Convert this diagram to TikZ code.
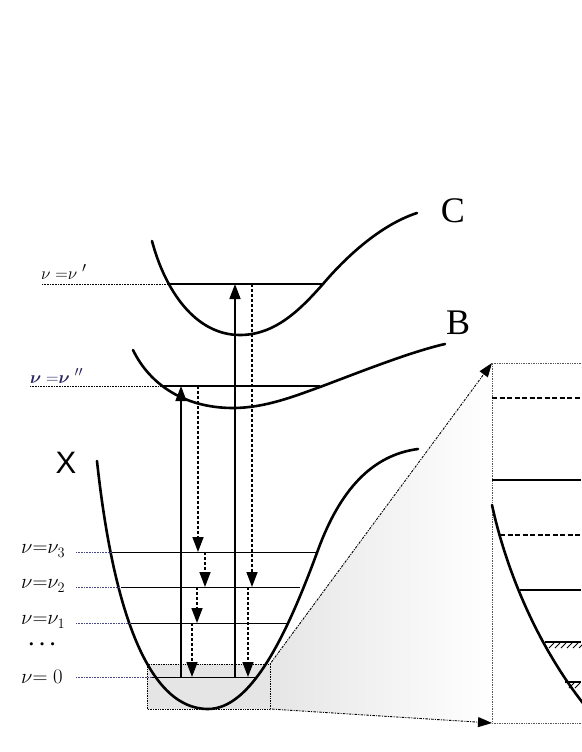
\documentclass[tikz,border=0pt]{standalone}
\usepackage{amsmath}
\usepackage{amssymb}
\usepackage{bm}
\usepackage{fontspec}
\newfontfamily\lsans{Liberation Sans}
\newfontfamily\lserif{Liberation Serif}
\usetikzlibrary{arrows.meta}
\definecolor{navy}{HTML}{2A2560}
\definecolor{guidec}{HTML}{4A4A80}
\begin{document}
\begin{tikzpicture}[x=1pt,y=-1pt,
  pot/.style={line width=2.6pt, line cap=round},
  lvl/.style={line width=1.2pt},
  guide/.style={densely dotted, line width=0.6pt},
  uparr/.style={line width=1.6pt, -{Triangle[length=15pt,width=11pt]}},
  downarr/.style={line width=1.6pt, dash pattern=on 3pt off 2pt, -{Triangle[length=15pt,width=11pt]}},
  zoomarr/.style={line width=0.9pt, dash pattern=on 1pt off 1.2pt on 2.5pt off 1.2pt, -{Triangle[length=14pt,width=10pt]}},
  lab/.style={anchor=west, inner sep=0pt},
  hatch/.style={line width=0.8pt}
]
\useasboundingbox (0,0) rectangle (581,752);

% zoom connection shading
\shade[left color=gray!20, right color=white] (270,664) -- (492,363) -- (492,723) -- (270,709) -- cycle;
% gray zoom box
\fill[gray!20] (147,664) rectangle (270,709);
\draw[densely dotted, line width=0.7pt] (147,664) rectangle (270,709);

% named corners
\coordinate (bxtr) at (270,664);
\coordinate (bxbr) at (270,709);
\coordinate (zmtl) at (492,363);
\coordinate (zmbl) at (492,723);

% zoom frame
\draw[densely dotted, line width=0.7pt, gray!70!black] (581,363) -- (zmtl) -- (zmbl) -- (581,723);
\draw[zoomarr] (bxtr) -- (zmtl);
\draw[zoomarr] (bxbr) -- (zmbl);

% potential curves
\draw[pot] (152,241) .. controls (165,290) and (195,335) .. (240,335)
  .. controls (275,335) and (300,310) .. (323,284)
  .. controls (345,258) and (380,225) .. (417,213);
\draw[pot] (133,350) .. controls (150,385) and (185,408) .. (233,408)
  .. controls (265,408) and (295,396) .. (320,387)
  .. controls (360,372) and (410,352) .. (445,344);
\draw[pot] (97,461) .. controls (112,600) and (145,709) .. (208,709)
  .. controls (250,709) and (285,640) .. (318,550)
  .. controls (340,490) and (372,455) .. (418,449);

% labels of curves
\node[font=\lserif\fontsize{36}{36}\selectfont, inner sep=0pt] (lC) at (453,211) {C};
\node[font=\lserif\fontsize{36}{36}\selectfont, inner sep=0pt] (lB) at (458,323) {B};
\node[font=\lsans\fontsize{31}{31}\selectfont, inner sep=0pt] (lX) at (66,463) {X};

% level lines
\draw[densely dotted, line width=0.6pt] (42,284) -- (168,284);
\draw[lvl] (168,284) -- (323,284);
\draw[densely dotted, line width=0.6pt] (30,386) -- (162,386);
\draw[lvl] (162,386) -- (320,386);
\draw[guide, guidec] (76,552) -- (112,552);
\draw[lvl, line width=1pt] (112,552) -- (318,552);
\draw[guide, guidec] (76,587) -- (121,587);
\draw[lvl, line width=1pt] (121,587) -- (300,587);
\draw[guide, guidec] (76,623) -- (131,623);
\draw[lvl, line width=1pt] (131,623) -- (287,623);
\draw[guide, guidec] (76,677) -- (152,677);
\draw[lvl, line width=1pt] (152,677) -- (258,677);

% level labels
\node[lab, font=\fontsize{19}{19}\selectfont] (l1) at (41,272) {$\nu\;{=}\nu\;'$};
\node[lab, font=\fontsize{19}{19}\selectfont, text=navy] (l2) at (30,376) {$\bm{\nu}\;{=}\bm{\nu}\;''$};
\node[lab, font=\fontsize{20}{20}\selectfont] (l3) at (21,551) {$\nu{=}\nu_3$};
\node[lab, font=\fontsize{20}{20}\selectfont] (l4) at (21,586) {$\nu{=}\nu_2$};
\node[lab, font=\fontsize{20}{20}\selectfont] (l5) at (21,622) {$\nu{=}\nu_1$};
\node[lab, font=\fontsize{20}{20}\selectfont] (l6) at (28,645) {$\bm{\cdots}$};
\node[lab, font=\fontsize{20}{20}\selectfont] (l7) at (21,677) {$\nu{=}\;0$};

% transition coordinates
\coordinate (a0) at (235,677); \coordinate (a1) at (235,284);
\coordinate (b0) at (252,284); \coordinate (b1) at (252,587);
\coordinate (b2) at (248,587); \coordinate (b3) at (248,677);
\coordinate (c0) at (181,677); \coordinate (c1) at (181,386);
\coordinate (d0) at (198,386); \coordinate (d1) at (198,552);
\coordinate (d2) at (205,552); \coordinate (d3) at (205,587);
\coordinate (d4) at (197,587); \coordinate (d5) at (197,623);
\coordinate (d6) at (192,623); \coordinate (d7) at (192,677);

\draw[uparr] (a0) -- (a1);
\draw[uparr] (c0) -- (c1);
\draw[downarr] (b0) -- (b1);
\draw[downarr] (b2) -- (b3);
\draw[downarr] (d0) -- (d1);
\draw[downarr] (d2) -- (d3);
\draw[downarr] (d4) -- (d5);
\draw[downarr] (d6) -- (d7);

% zoomed detail
\draw[line width=1.6pt, dash pattern=on 5pt off 2.5pt] (492,398) -- (581,398);
\draw[line width=1.8pt] (492,480) -- (581,480);
\draw[pot] (492,505) .. controls (505,565) and (535,645) .. (590,712);
\draw[line width=1.6pt, dash pattern=on 5pt off 2.5pt] (500,535) -- (581,535);
\draw[line width=1.8pt] (520,590) -- (581,590);
\draw[line width=1.8pt] (545,642) -- (581,642);
\foreach \x in {549,555,...,579} \draw[hatch] (\x,648) -- (\x+5,643);
\draw[line width=1.8pt] (565,682) -- (581,682);
\foreach \x in {569,575} \draw[hatch] (\x,688) -- (\x+5,683);
\end{tikzpicture}
\end{document}
